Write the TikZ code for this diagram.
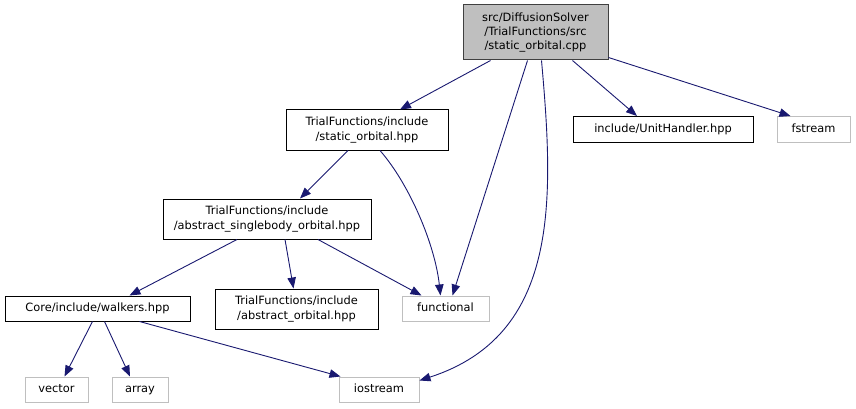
\documentclass[tikz,border=0pt]{standalone}
\usepackage{fontspec}
\setmainfont{DejaVu Sans}
\usetikzlibrary{arrows.meta,calc}
\definecolor{edgec}{HTML}{191970}
\definecolor{greyb}{HTML}{BFBFBF}
\definecolor{mainb}{HTML}{404040}
\begin{document}
\begin{tikzpicture}[x=1pt,y=-1pt,
  base/.style={line width=1pt,inner sep=0pt,align=center,font=\fontsize{11.4}{14.2}\selectfont},
  filebox/.style={base,draw=black,fill=white},
  sysbox/.style={base,draw=greyb,fill=white},
  mainbox/.style={base,draw=mainb,fill=greyb},
  oneline/.style={text height=8.6pt,text depth=2.6pt},
  dep/.style={draw=edgec,line width=0.9pt,-{Triangle[length=11pt,width=8.5pt]},color=edgec}]
\useasboundingbox (0,0) rectangle (856,409);
\node[mainbox,minimum width=145pt,minimum height=55pt] (cpp) at (535.5,32.5) {src/DiffusionSolver\\/TrialFunctions/src\\/static\_orbital.cpp};
\node[filebox,minimum width=162pt,minimum height=40pt] (stat) at (367,130) {TrialFunctions/include\\/static\_orbital.hpp};
\node[filebox,minimum width=208pt,minimum height=40pt] (single) at (267,219) {TrialFunctions/include\\/abstract\_singlebody\_orbital.hpp};
\node[filebox,oneline,minimum width=185pt,minimum height=25pt] (walk) at (97.5,308.5) {Core/include/walkers.hpp};
\node[filebox,minimum width=163pt,minimum height=40pt] (absorb) at (296.5,309) {TrialFunctions/include\\/abstract\_orbital.hpp};
\node[sysbox,oneline,minimum width=87pt,minimum height=25pt] (func) at (445.5,308.5) {functional};
\node[sysbox,oneline,minimum width=63pt,minimum height=25pt] (vec) at (56.5,389.5) {vector};
\node[sysbox,oneline,minimum width=56pt,minimum height=25pt] (arr) at (140,389.5) {array};
\node[sysbox,oneline,minimum width=80pt,minimum height=25pt] (ios) at (379,389.5) {iostream};
\node[filebox,oneline,minimum width=180pt,minimum height=26pt] (unit) at (663,129.5) {include/UnitHandler.hpp};
\node[sysbox,oneline,minimum width=73pt,minimum height=26pt] (fst) at (813.5,129.5) {fstream};
% edges
\draw[dep] ($(cpp.south)+(-45,0)$) -- ($(stat.north)+(33,0)$);
\draw[dep] ($(cpp.south)+(-8,0)$) -- ($(func.north)+(7,0)$);
\draw[dep] ($(cpp.south)+(6,0)$) .. controls (554,200) and (560,335) .. ($(ios.north east)+(0,4)$);
\draw[dep] ($(cpp.south)+(37,0)$) -- ($(unit.north)+(-26,0)$);
\draw[dep] ($(cpp.east)+(0,25)$) -- ($(fst.north)+(-23,0)$);
\draw[dep] ($(stat.south)+(-19,0)$) -- ($(single.north)+(33,0)$);
\draw[dep] ($(stat.south)+(13,0)$) .. controls (410,185) and (435,245) .. ($(func.north)+(-5,0)$);
\draw[dep] ($(single.south)+(-30,0)$) -- ($(walk.north)+(32,0)$);
\draw[dep] ($(single.south)+(18,0)$) -- ($(absorb.north)+(-3,0)$);
\draw[dep] ($(single.south)+(51,0)$) -- ($(func.north)+(-24,0)$);
\draw[dep] ($(walk.south)+(-5,0)$) -- ($(vec.north)+(8,0)$);
\draw[dep] ($(walk.south)+(7,0)$) -- ($(arr.north)+(-10,0)$);
\draw[dep] ($(walk.south)+(42,0)$) -- ($(ios.north west)+(2,0)$);
\end{tikzpicture}
\end{document}
